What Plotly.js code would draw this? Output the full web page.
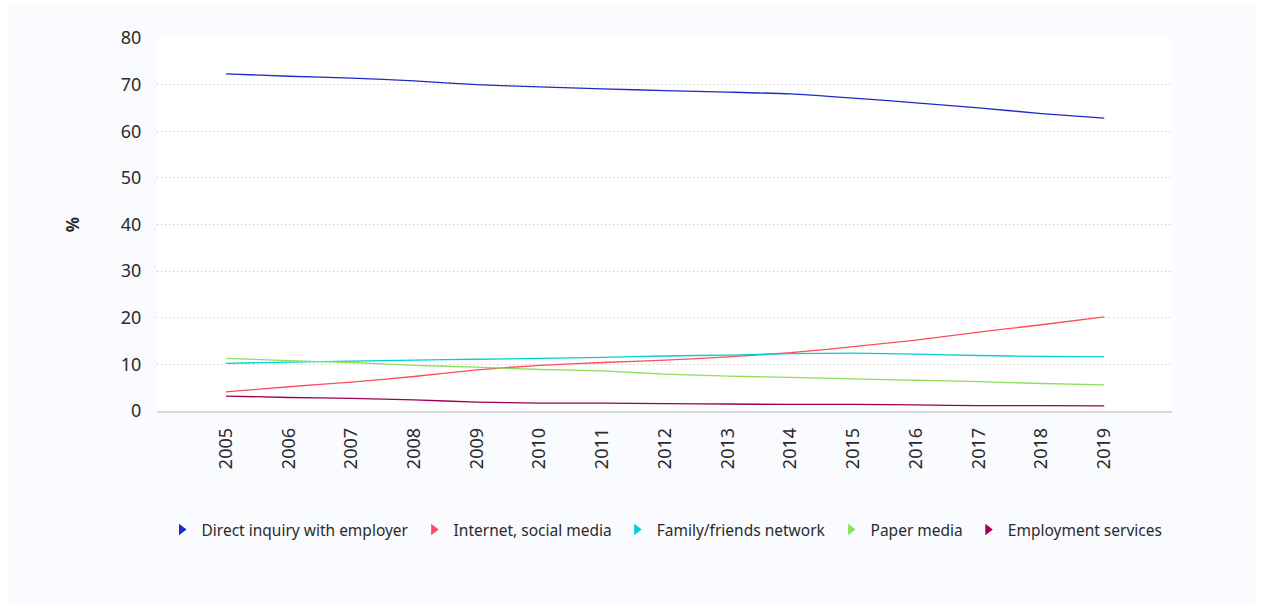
<!DOCTYPE html>
<html>
<head>
<meta charset="utf-8">
<script src="https://cdn.plot.ly/plotly-3.0.1.min.js"></script>
<style>
html,body{margin:0;padding:0;background:#ffffff;}
#chart{position:absolute;left:9px;top:5px;width:1248px;height:598px;}
</style>
</head>
<body>
<div id="chart"></div>
<script>
const years = [2005,2006,2007,2008,2009,2010,2011,2012,2013,2014,2015,2016,2017,2018,2019];
const seriesNames = ["Direct inquiry with employer","Internet, social media","Family/friends network","Paper media","Employment services"];
const directInquiry = [72.3,71.8,71.4,70.8,70.0,69.5,69.1,68.7,68.4,68.0,67.1,66.1,65.0,63.8,62.8];
const internetSocial = [4.1,5.2,6.2,7.4,8.8,9.8,10.4,10.9,11.6,12.5,13.8,15.2,16.9,18.5,20.2];
const familyFriends = [10.2,10.5,10.7,10.9,11.1,11.3,11.5,11.8,12.0,12.3,12.4,12.2,11.9,11.7,11.6];
const paperMedia = [11.3,10.8,10.4,9.8,9.4,8.9,8.6,7.9,7.5,7.2,6.9,6.6,6.3,5.9,5.6];
const employmentServices = [3.2,2.9,2.7,2.4,1.9,1.7,1.7,1.6,1.5,1.4,1.4,1.3,1.15,1.15,1.1];
const colors = ["#1f2bc6","#ff4b5a","#00cfd6","#8ee05a","#a0004f"];
const values = [directInquiry, internetSocial, familyFriends, paperMedia, employmentServices];

const traces = [];
values.forEach((v,i)=>{
  traces.push({x: years, y: v, type:'scatter', mode:'lines', name: seriesNames[i],
    line:{color: colors[i], width:1.3, shape:'spline', smoothing:0.6}, showlegend:false, hoverinfo:'x+y'});
});
values.forEach((v,i)=>{
  traces.push({x:[null], y:[null], type:'scatter', mode:'markers', name: seriesNames[i],
    marker:{symbol:'triangle-right', color: colors[i], size:10}, showlegend:true});
});

const layout = {
  width:1248, height:598,
  paper_bgcolor:'#f9fbfe', plot_bgcolor:'#ffffff',
  margin:{l:148, r:85, t:33, b:192},
  font:{family:'"Noto Sans", "Open Sans", sans-serif', color:'#2b2b2b', size:18},
  xaxis:{type:'linear', range:[2003.9,2020.08], tickvals: years, ticktext: years.map(String),
    tickangle:-90, showgrid:false, zeroline:false, showline:true, linecolor:'#d9d9d9', linewidth:1.5,
    ticks:'outside', ticklen:8, tickcolor:'rgba(0,0,0,0)', tickfont:{size:18}},
  yaxis:{range:[0,80], dtick:10, showgrid:true, gridcolor:'#bdbdbd', griddash:'1px,3px', gridwidth:1,
    zeroline:false, showline:false, ticks:'outside', ticklen:11, tickcolor:'rgba(0,0,0,0)',
    tickfont:{size:18}, title:{text:'<b>%</b>', font:{size:17}, standoff:36}},
  showlegend:true,
  legend:{orientation:'h', x:0.5, xanchor:'center', y:-0.319, yanchor:'middle',
    font:{size:15.5}, bgcolor:'rgba(0,0,0,0)', itemwidth:30, tracegroupgap:0},
  hovermode:'closest'
};
Plotly.newPlot('chart', traces, layout, {displayModeBar:false, responsive:false});
</script>
</body>
</html>
